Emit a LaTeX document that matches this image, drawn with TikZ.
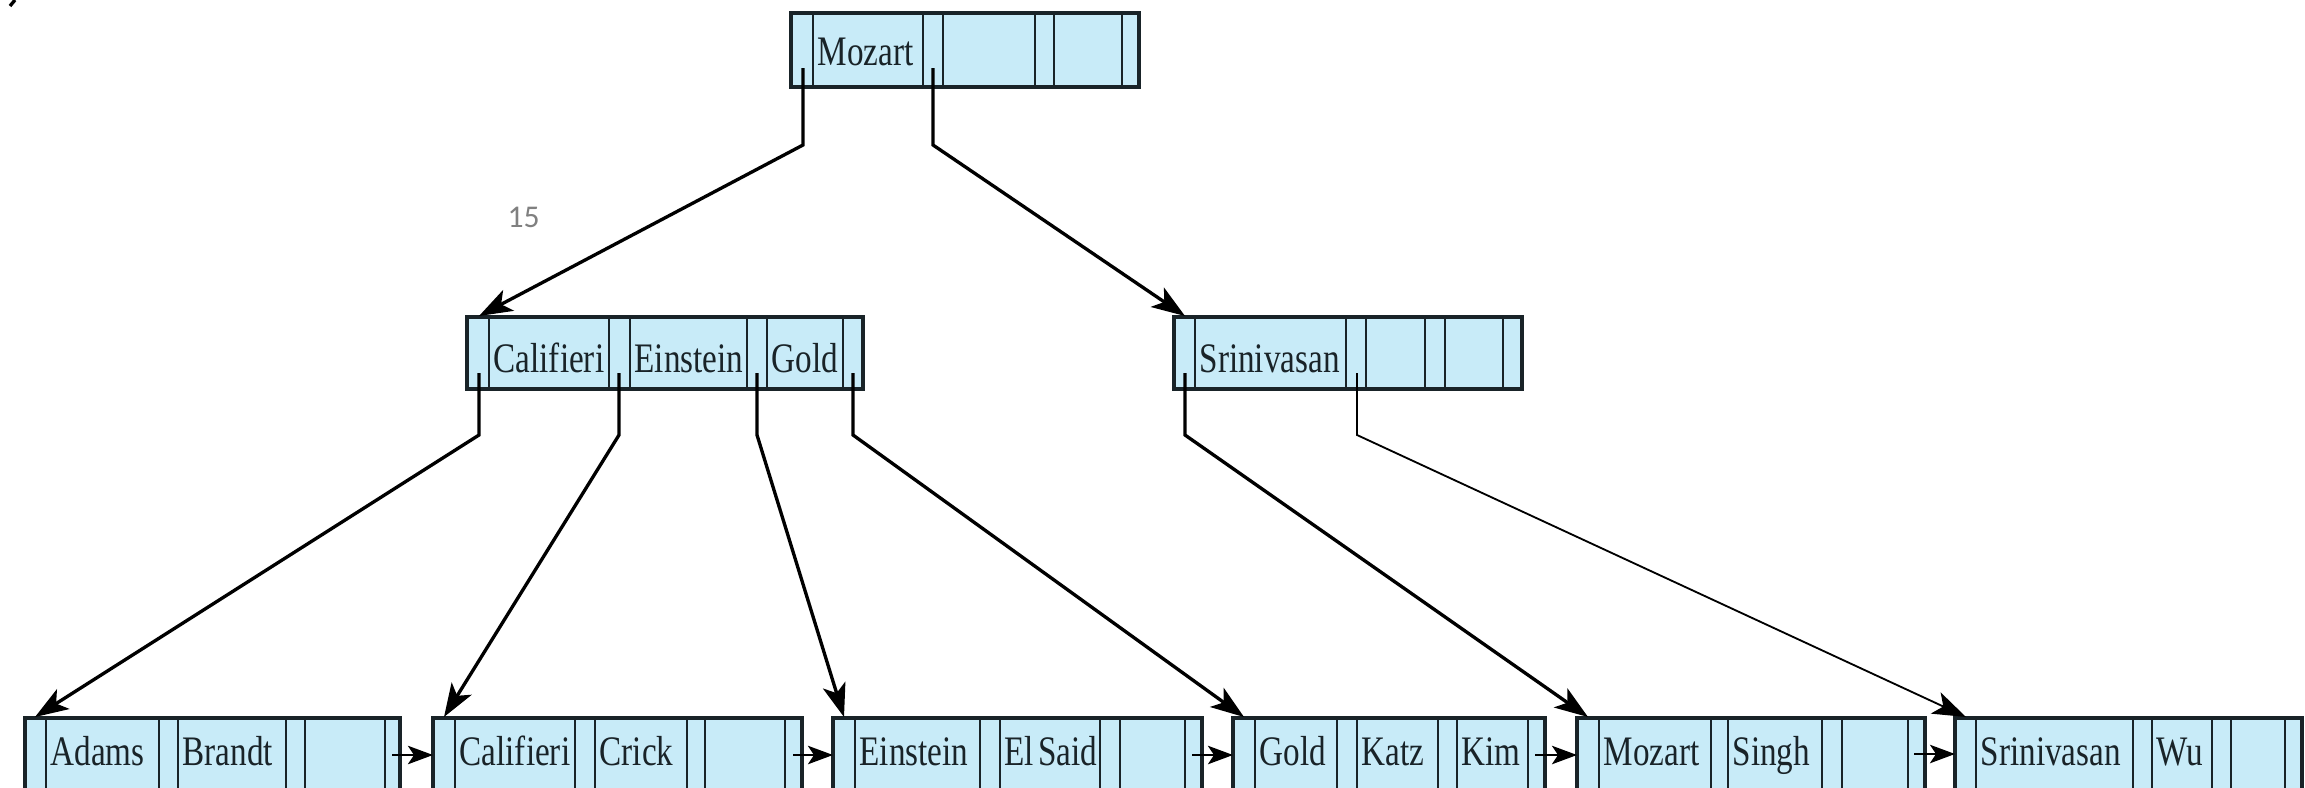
\documentclass[tikz,border=0pt]{standalone}
\usepackage{fontspec}
\setmainfont{Liberation Serif}[FakeStretch=0.79,WordSpace=0.5]
\newfontfamily\numfont{Carlito}
\usetikzlibrary{arrows.meta,fit}
\definecolor{cellblue}{RGB}{200,235,248}
\definecolor{pagenum}{RGB}{128,128,128}
\definecolor{inkdark}{RGB}{25,35,40}

% a B+-tree node: name, left, right, top, bottom
\newcommand\bptnode[5]{\node[bpbox, fit={(#2,#4) (#3,#5)}] (#1) {};}

\begin{document}
\begin{tikzpicture}[x=0.3pt,y=-0.3pt,
  bpbox/.style={draw=inkdark, fill=cellblue, line width=1pt, inner sep=0pt, outer sep=0pt},
  divider/.style={draw=inkdark, line width=0.75pt},
  key/.style={anchor=base west, inner sep=0pt, font=\fontsize{12.6}{14}\selectfont, text=inkdark},
  link/.style={draw=black, line width=1pt, -{Stealth[length=10pt,width=7pt,inset=2.5pt]}},
  thinlink/.style={draw=black, line width=0.55pt, -{Stealth[length=10pt,width=7pt,inset=2.5pt]}},
  chain/.style={draw=black, line width=0.85pt, -{Stealth[length=7.5pt,width=5.5pt,inset=1.8pt]}}]

\useasboundingbox (0,0) rectangle (2305,787);
\clip (0,0) rectangle (2305,787);

% stray mark in the corner
\draw[line width=1pt] (10,6) -- (15,0);

% ---------- root ----------
\bptnode{root}{791}{1139}{13}{87}
\foreach \x in {813,923,943,1035,1054,1122} \draw[divider] (\x,13) -- (\x,87);

% ---------- internal nodes ----------
\bptnode{ml}{467}{863}{317}{389}
\foreach \x in {489,609,630,747,767,843} \draw[divider] (\x,317) -- (\x,389);
\bptnode{mr}{1174}{1522}{317}{389}
\foreach \x in {1195,1346,1366,1425,1445,1503} \draw[divider] (\x,317) -- (\x,389);

% ---------- leaves ----------
\bptnode{l1}{25}{400}{718}{800}
\foreach \x in {46,159,178,286,305,385} \draw[divider] (\x,718) -- (\x,800);
\bptnode{l2}{433}{802}{718}{800}
\foreach \x in {455,575,595,687,705,785} \draw[divider] (\x,718) -- (\x,800);
\bptnode{l3}{833}{1202}{718}{800}
\foreach \x in {855,980,1000,1100,1120,1185} \draw[divider] (\x,718) -- (\x,800);
\bptnode{l4}{1233}{1545}{718}{800}
\foreach \x in {1255,1337,1357,1438,1457,1528} \draw[divider] (\x,718) -- (\x,800);
\bptnode{l5}{1577}{1925}{718}{800}
\foreach \x in {1599,1711,1728,1822,1842,1908} \draw[divider] (\x,718) -- (\x,800);
\bptnode{l6}{1955}{2302}{718}{800}
\foreach \x in {1976,2133,2152,2212,2231,2285} \draw[divider] (\x,718) -- (\x,800);

% ---------- search keys ----------
\foreach \x/\y/\t [count=\i] in {
  813/65/Mozart,
  489/372/Califieri, 630/372/Einstein, 767/372/Gold,
  1195/372/Srinivasan,
  46/765/Adams, 178/765/Brandt,
  455/765/Califieri, 595/765/Crick,
  855/765/Einstein, 1000/765/El Said,
  1255/765/Gold, 1357/765/Katz, 1457/765/Kim,
  1599/765/Mozart, 1728/765/Singh,
  1976/765/Srinivasan, 2152/765/Wu}
  \node[key] (key\i) at (\x+4,\y) {\t};

% ---------- pointer anchors ----------
\coordinate (root-p0) at (803,68);   \coordinate (root-b0) at (803,145);
\coordinate (root-p1) at (933,68);   \coordinate (root-b1) at (933,145);
\coordinate (ml-in) at (479,316);
\coordinate (mr-in) at (1185,316);

\coordinate (ml-p0) at (479,373);  \coordinate (ml-b0) at (479,435);
\coordinate (ml-p1) at (619,373);  \coordinate (ml-b1) at (619,435);
\coordinate (ml-p2) at (757,373);  \coordinate (ml-b2) at (757,435);
\coordinate (ml-p3) at (853,373);  \coordinate (ml-b3) at (853,435);
\coordinate (mr-p0) at (1185,373); \coordinate (mr-b0) at (1185,435);
\coordinate (mr-p1) at (1357,373); \coordinate (mr-b1) at (1357,435);

\coordinate (l1-in) at (35,717);
\coordinate (l2-in) at (444,717);
\coordinate (l3-in) at (844,717);
\coordinate (l4-in) at (1244,717);
\coordinate (l5-in) at (1588,717);
\coordinate (l6-in) at (1966,717);

% ---------- tree pointers ----------
\draw[link] (root-p0) -- (root-b0) -- (ml-in);
\draw[link] (root-p1) -- (root-b1) -- (mr-in);
\draw[link] (ml-p0) -- (ml-b0) -- (l1-in);
\draw[link] (ml-p1) -- (ml-b1) -- (l2-in);
\draw[link] (ml-p2) -- (ml-b2) -- (l3-in);
\draw[link] (ml-p3) -- (ml-b3) -- (l4-in);
\draw[link] (mr-p0) -- (mr-b0) -- (l5-in);
\draw[thinlink] (mr-p1) -- (mr-b1) -- (l6-in);

% ---------- leaf chain ----------
\coordinate (l1-next) at (392,755); \coordinate (l2-prev) at (433,755);
\coordinate (l2-next) at (793,755); \coordinate (l3-prev) at (833,755);
\coordinate (l3-next) at (1192,755); \coordinate (l4-prev) at (1233,755);
\coordinate (l4-next) at (1535,755); \coordinate (l5-prev) at (1577,755);
\coordinate (l5-next) at (1914,754); \coordinate (l6-prev) at (1955,754);
\draw[chain] (l1-next) -- (l2-prev);
\draw[chain] (l2-next) -- (l3-prev);
\draw[chain] (l3-next) -- (l4-prev);
\draw[chain] (l4-next) -- (l5-prev);
\draw[chain] (l5-next) -- (l6-prev);

% ---------- page number ----------
\node[anchor=base west, inner sep=0pt, text=pagenum,
      font=\numfont\fontsize{9.5}{11}\selectfont] (pgno) at (507,227) {15};

\end{tikzpicture}
\end{document}
